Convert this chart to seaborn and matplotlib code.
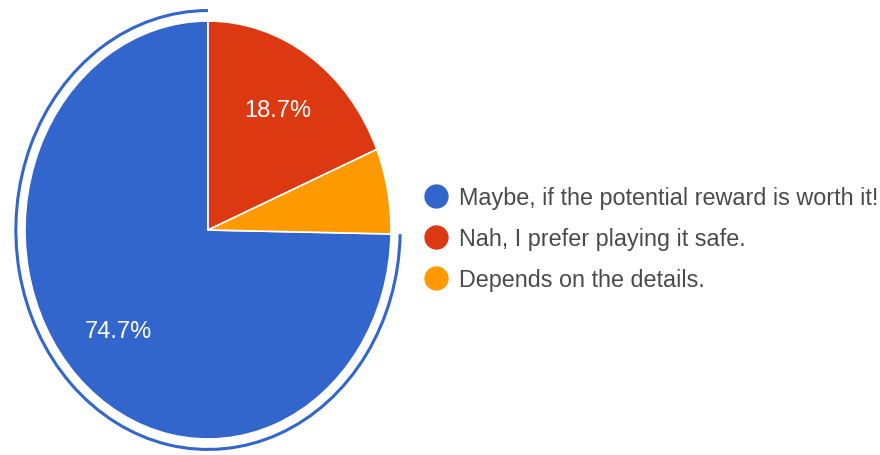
import matplotlib
matplotlib.use("Agg")
import matplotlib.pyplot as plt
from matplotlib import font_manager
from matplotlib.patches import Arc
from matplotlib.lines import Line2D
import seaborn as sns

# Survey answers and their shares (percent)
answers = [
    "Maybe, if the potential reward is worth it!",
    "Nah, I prefer playing it safe.",
    "Depends on the details.",
]
shares = [74.7, 18.7, 6.6]
slice_colors = ["#3366CC", "#DC3912", "#FF9900"]

sns.set_theme(style="white")

# Prefer the narrow Arial-metric face; fall back to the regular one
try:
    font_manager.findfont("Liberation Sans Narrow", fallback_to_default=False)
    family = ["Liberation Sans Narrow", "DejaVu Sans"]
    label_size, legend_size, spacing, hlen, hpad = 20.5, 20.0, 0.34, 1.0, 0.33
except ValueError:
    family = ["Liberation Sans", "DejaVu Sans"]
    label_size, legend_size, spacing, hlen, hpad = 17.0, 16.8, 0.78, 1.0, 0.5
plt.rcParams["font.family"] = family
palette = sns.color_palette(slice_colors)

W, H, DPI = 880, 456, 100
fig = plt.figure(figsize=(W / DPI, H / DPI), dpi=DPI)
fig.patch.set_facecolor("white")

# Pie axes: centre and radii in pixels (the pie is drawn slightly taller than wide)
cx, cy, rx, ry = 208, 231, 183, 209
L = 1.15
ax = fig.add_axes([(cx - L * rx) / W, (H - cy - L * ry) / H,
                   2 * L * rx / W, 2 * L * ry / H])

# first slice ends at 12 o'clock, remaining slices run clockwise from there
start = 90 + 3.6 * shares[0]
wedges, texts, autotexts = ax.pie(
    shares,
    colors=palette,
    startangle=start,
    counterclock=False,
    autopct="%.1f%%",
    pctdistance=0.69,
    wedgeprops=dict(edgecolor="white", linewidth=1.2),
    textprops=dict(color="white", fontsize=label_size),
)
# the small slice carries no label
autotexts[2].set_visible(False)

ax.set_aspect("auto")
ax.set_xlim(-L, L)
ax.set_ylim(-L, L)
ax.axis("off")

# highlight ring around the largest slice
ring = Arc((0, 0), 2 * 1.05, 2 * 1.05, theta1=90, theta2=start,
           color=palette[0], linewidth=2.2)
ax.add_patch(ring)

# Legend with round markers
fs_px = legend_size * DPI / 72
handles = [Line2D([], [], linestyle="none", marker="o", markersize=16.5,
                  markerfacecolor=c, markeredgecolor=c) for c in palette]
leg = fig.legend(
    handles, answers,
    loc="upper left",
    bbox_to_anchor=((436 - hlen * fs_px / 2) / W, (H - 187) / H),
    frameon=False,
    fontsize=legend_size,
    handlelength=hlen,
    handletextpad=hpad,
    labelspacing=spacing,
    borderpad=0,
    borderaxespad=0,
)
for t in leg.get_texts():
    t.set_color("#4a4a4a")

fig.savefig("out.png", dpi=DPI, facecolor="white")
